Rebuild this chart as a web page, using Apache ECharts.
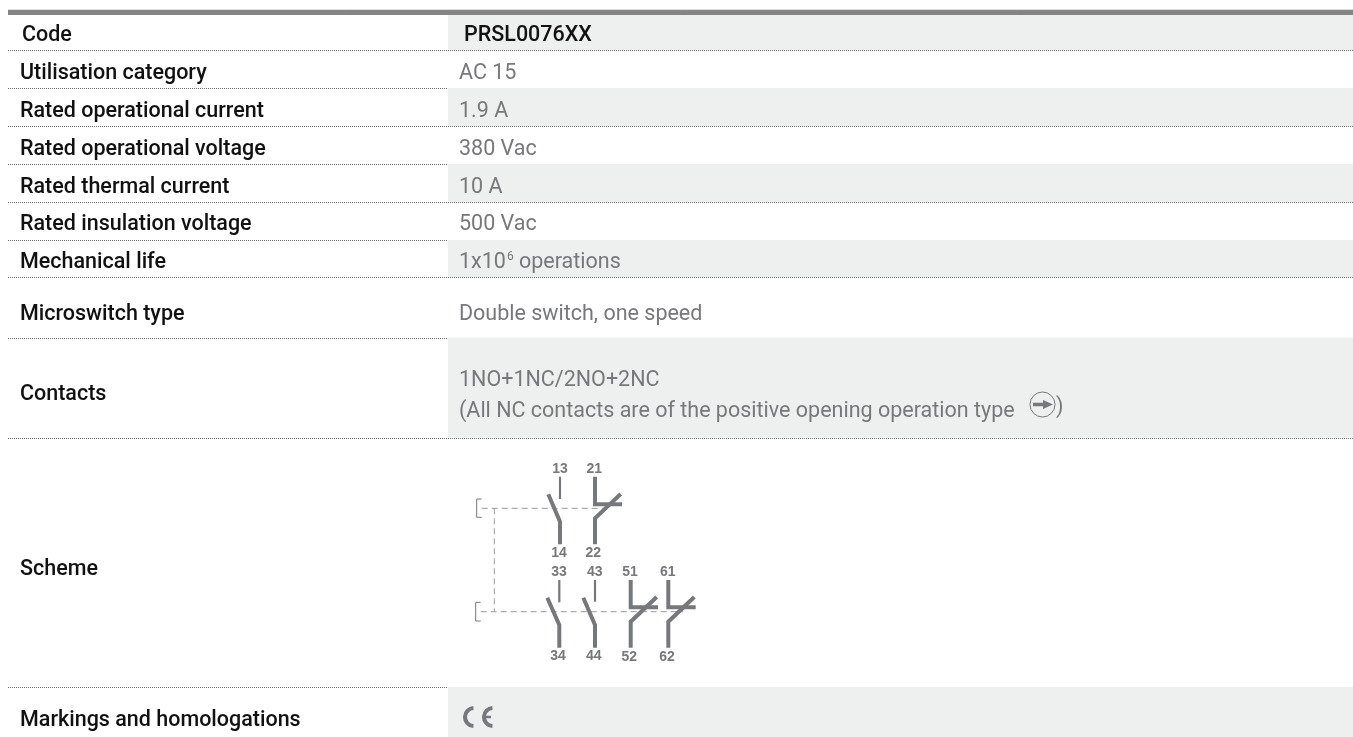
<!DOCTYPE html>
<html>
<head>
    <meta charset="utf-8">
    <title>PRSL0076XX</title>
    <script src="https://cdn.jsdelivr.net/npm/echarts@6/dist/echarts.min.js"></script>
    <style>
        html, body { margin: 0; padding: 0; background: #fff; }
    </style>
</head>
<body>
<div id="main" style="width: 1353px;height:737px;"></div>
<script type="text/javascript">
    // table content
    var rowLabels = ['Code', 'Utilisation category', 'Rated operational current', 'Rated operational voltage',
        'Rated thermal current', 'Rated insulation voltage', 'Mechanical life', 'Microswitch type', 'Contacts',
        'Scheme', 'Markings and homologations'];
    var rowValues = ['PRSL0076XX', 'AC 15', '1.9 A', '380 Vac', '10 A', '500 Vac', '{v|1x10}{s|6}{v| operations}',
        'Double switch, one speed', '1NO+1NC/2NO+2NC\n(All NC contacts are of the positive opening operation type', '', ''];
    var schemeTerminals = ['13', '21', '14', '22', '33', '43', '51', '61', '34', '44', '52', '62'];

    // layout, in pixels of the page
    var rowEdges = [15, 50, 88, 126, 164, 202, 240, 277, 337.5, 437.5, 687, 737];
    var rowTextY = [36, 74, 112, 150, 188, 225, 263, 315, 395, 570, 721];
    var contactsValueY = 396;
    var shadedRows = [0, 2, 4, 6, 8, 10];
    var terminalPos = [[560, 469], [594.3, 469], [559, 553.3], [593.3, 552.7], [559, 572.3], [594.7, 572.3],
        [630, 572.3], [667.7, 572.3], [558, 656], [593.7, 656], [629.3, 656.7], [667, 656.7]];
    var textSize = '21.5px Roboto';
    var valueColor = '#77787b';

    var myChart = echarts.init(document.getElementById('main'));

    function renderRow(params, api) {
        var i = api.value(0);
        var top = api.coord([0, rowEdges[i]])[1];
        var bottom = api.coord([0, rowEdges[i + 1]])[1];
        var textY = api.coord([0, rowTextY[i]])[1];
        var children = [];
        if (shadedRows.indexOf(i) >= 0) {
            children.push({
                type: 'rect',
                shape: { x: 448, y: top, width: 905, height: bottom - top },
                style: { fill: '#eef0ef' }
            });
        }
        if (i < rowLabels.length - 1) {
            children.push({
                type: 'line',
                shape: { x1: 8, y1: Math.round(bottom) + 0.5, x2: 1353, y2: Math.round(bottom) + 0.5 },
                style: { stroke: '#6e6e6e', lineWidth: 1, lineDash: [1, 1] }
            });
        }
        children.push({
            type: 'text',
            x: i === 0 ? 22 : 20,
            y: textY,
            style: {
                text: rowLabels[i],
                fill: '#111',
                font: '500 ' + textSize,
                verticalAlign: 'middle'
            }
        });
        if (rowValues[i]) {
            children.push({
                type: 'text',
                x: i === 0 ? 464 : 459,
                y: i === 8 ? contactsValueY : textY,
                style: {
                    text: rowValues[i],
                    fill: i === 0 ? '#111' : valueColor,
                    font: (i === 0 ? '500 ' : '400 ') + textSize,
                    lineHeight: 31,
                    verticalAlign: 'middle',
                    rich: {
                        v: { fill: valueColor, font: '400 ' + textSize, lineHeight: 31 },
                        s: { fill: valueColor, font: '400 12px Roboto', lineHeight: 31, verticalAlign: 'top', padding: [3, 0, 0, 1] }
                    }
                }
            });
        }
        return { type: 'group', children: children };
    }

    function schemeLine(points, width, dashed) {
        return {
            type: 'polyline',
            shape: { points: points },
            style: { stroke: dashed ? '#9a9a9a' : '#77787b', fill: null, lineWidth: width, lineDash: dashed ? [6, 4] : null }
        };
    }

    var schemeLines = [
        // brackets and mechanical link
        schemeLine([[481.7, 499], [476.7, 499], [476.7, 517.3], [481.7, 517.3]], 1),
        schemeLine([[480.7, 602.3], [475.7, 602.3], [475.7, 621], [480.7, 621]], 1),
        schemeLine([[481.7, 508.3], [606, 508.3]], 1, true),
        schemeLine([[494.3, 508.3], [494.3, 611.7]], 1, true),
        schemeLine([[480.7, 611.7], [683, 611.7]], 1, true),
        // top NO contact 13-14
        schemeLine([[560, 476.7], [560, 499]], 2.2),
        schemeLine([[548.3, 494.3], [560, 521.7], [560, 544.3]], 4),
        // top NC contact 21-22
        schemeLine([[595, 476.7], [595, 504.3], [622, 504.3]], 4),
        schemeLine([[620.7, 494], [595, 518.3], [595, 544.3]], 4),
        // 33-34
        schemeLine([[559.3, 580], [559.3, 602.3]], 2.2),
        schemeLine([[547.3, 597.7], [559.3, 625], [559.3, 647.7]], 4),
        // 43-44
        schemeLine([[595, 580], [595, 601.7]], 2.2),
        schemeLine([[583.3, 597.7], [595, 625], [595, 647.7]], 4),
        // 51-52
        schemeLine([[630.7, 580], [630.7, 607.3], [658, 607.3]], 4),
        schemeLine([[656.7, 597], [630.7, 621.7], [630.7, 647.7]], 4),
        // 61-62
        schemeLine([[668.3, 580], [668.3, 607.3], [695.7, 607.3]], 4),
        schemeLine([[694.3, 597], [668.3, 621.7], [668.3, 647.7]], 4)
    ];

    var schemeLabels = schemeTerminals.map(function (t, i) {
        return {
            type: 'text',
            x: terminalPos[i][0],
            y: terminalPos[i][1],
            style: {
                text: t,
                fill: '#77787b',
                font: 'bold 14px "Liberation Sans"',
                align: 'center',
                verticalAlign: 'middle'
            }
        };
    });

    // positive opening symbol, closing bracket and CE mark
    var extras = [
        { type: 'circle', shape: { cx: 1042.5, cy: 404.5, r: 12.5 }, style: { stroke: valueColor, fill: null, lineWidth: 1 } },
        { type: 'line', shape: { x1: 1033, y1: 404.5, x2: 1045, y2: 404.5 }, style: { stroke: valueColor, lineWidth: 3.5 } },
        { type: 'polygon', shape: { points: [[1043, 400], [1053, 404.5], [1043, 409]] }, style: { fill: valueColor } },
        { type: 'text', x: 1056, y: contactsValueY + 12, style: { text: ')', fill: valueColor, font: '400 ' + textSize, verticalAlign: 'middle' } },
        { type: 'arc', shape: { cx: 474, cy: 717, r: 9, startAngle: Math.PI * 0.52, endAngle: Math.PI * 1.48 }, style: { stroke: valueColor, fill: null, lineWidth: 4 } },
        { type: 'arc', shape: { cx: 493, cy: 717, r: 9, startAngle: Math.PI * 0.52, endAngle: Math.PI * 1.48 }, style: { stroke: valueColor, fill: null, lineWidth: 4 } },
        { type: 'line', shape: { x1: 484, y1: 717, x2: 491, y2: 717 }, style: { stroke: valueColor, lineWidth: 2.5 } }
    ];

    var topBar = [
        { type: 'rect', shape: { x: 8, y: 10, width: 1345, height: 5 }, style: { fill: '#858585' } },
        { type: 'line', shape: { x1: 8, y1: 9.5, x2: 1353, y2: 9.5 }, style: { stroke: '#dddddd', lineWidth: 1 } }
    ];

    var option = {
        animation: false,
        grid: { left: 0, right: 0, top: 0, bottom: 0 },
        xAxis: { type: 'value', min: 0, max: 1353, show: false },
        yAxis: { type: 'value', min: 0, max: 737, inverse: true, show: false },
        // graphic has to sit above the shaded row rects
        graphic: topBar.concat(schemeLines, schemeLabels, extras).map(function (el) {
            el.z = 10;
            return el;
        }),
        series: [{
            type: 'custom',
            coordinateSystem: 'cartesian2d',
            silent: true,
            clip: false,
            renderItem: renderRow,
            data: rowLabels.map(function (label, i) { return [i]; })
        }]
    };

    myChart.setOption(option);
</script>
</body>
</html>
